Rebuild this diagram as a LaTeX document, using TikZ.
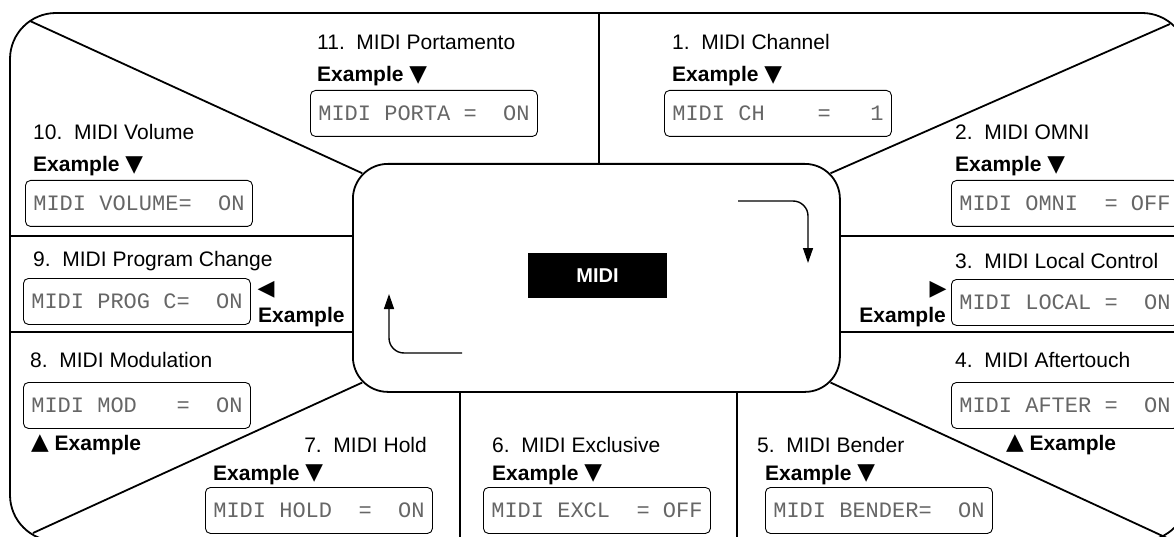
\documentclass[tikz,border=0pt]{standalone}
\usepackage{fontspec}
\setmainfont{Liberation Sans}
\newfontfamily\lcdfont{Liberation Mono}
\newfontfamily\symfont{DejaVu Sans}
\usetikzlibrary{arrows.meta,calc}
\newcommand\dtri{{\symfont\fontsize{23}{23}\selectfont\raisebox{0.5pt}{▼}}}
\newcommand\utri{{\symfont\fontsize{23}{23}\selectfont\raisebox{0.5pt}{▲}}}
\newcommand\ltri{{\symfont\fontsize{22}{22}\selectfont ◀}}
\newcommand\rtri{{\symfont\fontsize{22}{22}\selectfont ▶}}
\tikzset{
  frame/.style={line width=1.8pt, line join=round},
  lbl/.style={anchor=base west, inner sep=0pt, font=\fontsize{21}{24}\selectfont},
  lble/.style={anchor=base east, inner sep=0pt, font=\fontsize{21}{24}\selectfont},
  ex/.style={anchor=base west, inner sep=0pt, font=\bfseries\fontsize{21}{24}\selectfont},
  exe/.style={anchor=base east, inner sep=0pt, font=\bfseries\fontsize{21}{24}\selectfont},
  lcd/.style={draw, line width=0.9pt, rounded corners=5pt, anchor=north west,
    minimum width=227pt, minimum height=46pt, inner sep=0pt,
    font=\lcdfont\fontsize{22}{24}\selectfont, text=black!60},
  turn/.style={line width=1.4pt, rounded corners=15pt, -{Triangle[length=15pt,width=10pt]}},
}
\begin{document}
\begin{tikzpicture}[x=1pt,y=-1pt]
\useasboundingbox (0,0) rectangle (1174,537);
\clip (0,0) rectangle (1174,537);
% outer frame
\draw[frame, rounded corners=46pt] (10,13) rectangle (1188,541);
% center box
\node[draw, line width=1.8pt, rounded corners=35pt, anchor=north west,
  minimum width=487pt, minimum height=228pt, inner sep=0pt] (ctr) at (352,163) {};
\node[fill=black, text=white, font=\bfseries\fontsize{20}{22}\selectfont,
  minimum width=139pt, minimum height=45pt, inner sep=0pt] (midi) at (597.5,275.5) {MIDI};
% frame points
\coordinate (otl) at (30,21);
\coordinate (otr) at (1170,24);
\coordinate (obl) at (33,533);
\coordinate (obr) at (1167,538);
\coordinate (ctl) at ($(ctr.north west)+(10.25,10.25)$);
\coordinate (ctrr) at ($(ctr.north east)+(-10.25,10.25)$);
\coordinate (cbl) at ($(ctr.south west)+(10.25,-10.25)$);
\coordinate (cbr) at ($(ctr.south east)+(-10.25,-10.25)$);
\draw[frame] (otl) -- (ctl);
\draw[frame] (otr) -- (ctrr);
\draw[frame] (obl) -- (cbl);
\draw[frame] (obr) -- (cbr);
% vertical separators
\coordinate (vt1) at (599,13); \coordinate (vt2) at (599,163);
\draw[frame] (vt1) -- (vt2);
\coordinate (vb1) at (460,391); \coordinate (vb2) at (460,541);
\coordinate (vb3) at (737,391); \coordinate (vb4) at (737,541);
\draw[frame] (vb1) -- (vb2);
\draw[frame] (vb3) -- (vb4);
% horizontal separators
\coordinate (hl1) at (10,236); \coordinate (hl2) at (352,236);
\coordinate (hl3) at (10,332); \coordinate (hl4) at (352,332);
\coordinate (hr1) at (839,236); \coordinate (hr2) at (1188,236);
\coordinate (hr3) at (839,332); \coordinate (hr4) at (1188,332);
\draw[frame] (hl1) -- (hl2);
\draw[frame] (hl3) -- (hl4);
\draw[frame] (hr1) -- (hr2);
\draw[frame] (hr3) -- (hr4);
% arrows in center
\coordinate (a1s) at (738,201); \coordinate (a1e) at (808,263);
\draw[turn] (a1s) -| (a1e);
\coordinate (a2s) at (462,353); \coordinate (a2e) at (389,294);
\draw[turn] (a2s) -| (a2e);
% 11
\node[lbl] (l11) at (317,50) {11.~~MIDI Portamento};
\node[ex] (e11) at (317,82) {Example \dtri};
\node[lcd] (b11) at (310,90) {MIDI~PORTA~=~~ON};
% 1
\node[lbl] (l1) at (672,50) {1.~~MIDI Channel};
\node[ex] (e1) at (672,82) {Example \dtri};
\node[lcd] (b1) at (664,90) {MIDI~CH~~~~=~~~1};
% 10
\node[lbl] (l10) at (33,140) {10.~~MIDI Volume};
\node[ex] (e10) at (33,172) {Example \dtri};
\node[lcd] (b10) at (25,180) {MIDI~VOLUME=~~ON};
% 2
\node[lbl] (l2) at (955,140) {2.~~MIDI OMNI};
\node[ex] (e2) at (955,172) {Example \dtri};
\node[lcd] (b2) at (951,180) {MIDI~OMNI~~=~OFF};
% 9
\node[lbl] (l9) at (33,266) {9.~~MIDI Program Change};
\node[lcd] (b9) at (23,278) {MIDI~PROG~C=~~ON};
\node[inner sep=0pt] (t9) at (266,290) {\ltri};
\node[ex] (e9) at (258,322) {Example};
% 3
\node[lbl] (l3) at (955,268) {3.~~MIDI Local Control};
\node[lcd] (b3) at (951,279) {MIDI~LOCAL~=~~ON};
\node[inner sep=0pt] (t3) at (938,290) {\rtri};
\node[exe] (e3) at (946,322) {Example};
% 8
\node[lbl] (l8) at (30,367) {8.~~MIDI Modulation};
\node[lcd] (b8) at (23,382) {MIDI~MOD~~~=~~ON};
\node[ex] (e8) at (31,450) {\utri\ Example};
% 4
\node[lbl] (l4) at (955,367) {4.~~MIDI Aftertouch};
\node[lcd] (b4) at (951,382) {MIDI~AFTER~=~~ON};
\node[ex] (e4) at (1006,450) {\utri\ Example};
% 7
\node[lble] (l7) at (427,452) {7.~~MIDI Hold};
\node[ex] (e7) at (213,480) {Example \dtri};
\node[lcd] (b7) at (205,487) {MIDI~HOLD~~=~~ON};
% 6
\node[lbl] (l6) at (492,452) {6.~~MIDI Exclusive};
\node[ex] (e6) at (492,480) {Example \dtri};
\node[lcd] (b6) at (483,487) {MIDI~EXCL~~=~OFF};
% 5
\node[lbl] (l5) at (757,452) {5.~~MIDI Bender};
\node[ex] (e5) at (765,480) {Example \dtri};
\node[lcd] (b5) at (765,487) {MIDI~BENDER=~~ON};
\end{tikzpicture}
\end{document}
